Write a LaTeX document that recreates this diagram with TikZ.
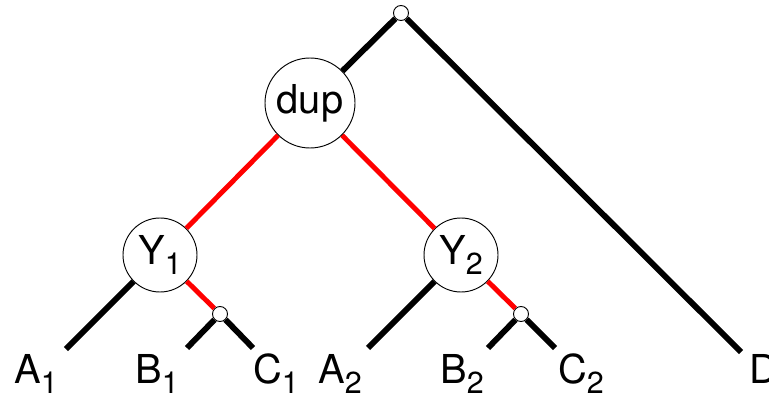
\documentclass[tikz,border=0pt]{standalone}
\usepackage{fontspec}
\setmainfont{TeX Gyre Heros}
\usetikzlibrary{arrows.meta, positioning}
\newcommand{\subidx}[2]{#1\raisebox{-9pt}{\fontsize{26}{26}\selectfont #2}}

\begin{document}
\begin{tikzpicture}[
  x=0.03cm, y=-0.03cm,
  event/.style={draw, circle, fill=white, line width=0.8pt, inner sep=0pt,
                font=\fontsize{34}{34}\selectfont},
  spec/.style={draw, circle, fill=white, line width=0.8pt, inner sep=0pt, minimum size=0.45cm},
  branch/.style={line width=5pt},
  dupbranch/.style={line width=4.2pt, red},
  leaf/.style={inner sep=0pt, anchor=base, font=\fontsize{34}{34}\selectfont},
]
  \useasboundingbox (0,0) rectangle (769,399);

  % internal nodes
  \node[spec] (root) at (401,13) {};
  \node[event, minimum size=2.7cm] (dup) at (310,103) {dup};
  \node[event, minimum size=2.22cm] (y1) at (160,255) {\subidx{Y}{1}};
  \node[event, minimum size=2.22cm] (y2) at (461,255) {\subidx{Y}{2}};
  \node[spec] (s1) at (220,314) {};
  \node[spec] (s2) at (521,314) {};

  % free ends of the leaf branches
  \coordinate (a1) at (66,349);
  \coordinate (b1) at (187,348);
  \coordinate (c1) at (253,348);
  \coordinate (a2) at (368,348);
  \coordinate (b2) at (488,348);
  \coordinate (c2) at (555,348);
  \coordinate (d) at (741,352);

  \draw[branch] (root) -- (dup);
  \draw[branch] (root) -- (d);
  \draw[dupbranch] (dup) -- (y1);
  \draw[dupbranch] (dup) -- (y2);
  \draw[branch] (y1) -- (a1);
  \draw[dupbranch] (y1) -- (s1);
  \draw[branch] (s1) -- (b1);
  \draw[branch] (s1) -- (c1);
  \draw[branch] (y2) -- (a2);
  \draw[dupbranch] (y2) -- (s2);
  \draw[branch] (s2) -- (b2);
  \draw[branch] (s2) -- (c2);

  % leaf labels
  \node[leaf] (la1) at (36,383) {\subidx{A}{1}};
  \node[leaf] (lb1) at (157,383) {\subidx{B}{1}};
  \node[leaf] (lc1) at (276,383) {\subidx{C}{1}};
  \node[leaf] (la2) at (340,383) {\subidx{A}{2}};
  \node[leaf] (lb2) at (462,383) {\subidx{B}{2}};
  \node[leaf] (lc2) at (581,383) {\subidx{C}{2}};
  \node[leaf, anchor=base west] (ld) at (749,383) {D};
\end{tikzpicture}
\end{document}
